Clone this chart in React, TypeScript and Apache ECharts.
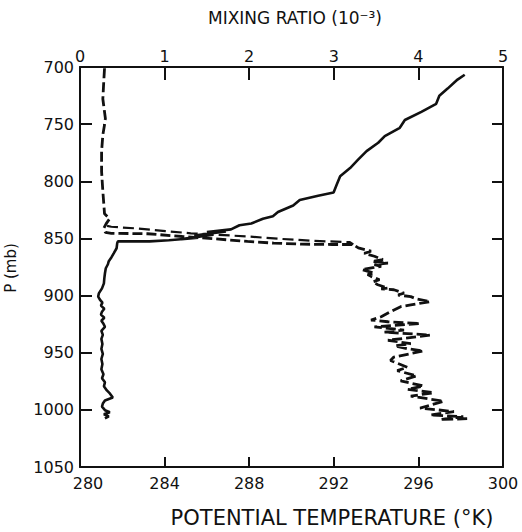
import { useEffect, useRef } from "react";
import * as echarts from "echarts";

// Pressure axis (mb), inverted: 700 at the top, 1050 at the bottom
const pressureMin = 700;
const pressureMax = 1050;
const pressureStep = 50;

// Potential temperature axis (K), bottom
const thetaMin = 280;
const thetaMax = 300;
const thetaStep = 4;

// Mixing ratio axis (10^-3), top
const mixMin = 0;
const mixMax = 5;
const mixStep = 1;

// Potential temperature sounding, top to bottom
const thetaK = [
  298.19, 297.85, 297.38, 296.99, 296.84, 296.14, 295.36, 295.12, 294.41, 294.1,
  293.55, 293.16, 292.77, 292.3, 292.14, 291.99, 291.26, 290.39, 290.08, 289.36,
  289.12, 288.65, 288.1, 287.54, 287.14, 286.0, 286.9, 285.4, 286.3, 284.8,
  285.6, 284.2, 283.29, 281.79, 281.76, 281.73, 281.6, 281.49, 281.36, 281.32,
  281.22, 281.18, 281.15, 281.13, 281.04, 280.89, 280.86, 280.94, 281.06, 280.99,
  281.15, 281.04, 280.99, 281.15, 281.01, 281.11, 281.18, 281.01, 281.08, 281.01,
  281.06, 281.01, 281.08, 281.01, 281.06, 281.01, 281.11, 281.04, 281.18, 281.13,
  281.27, 281.41, 281.55, 281.18, 281.08, 281.04, 281.18, 281.41, 281.13, 281.36,
  281.18,
];
const thetaP = [
  706.8, 711, 718.9, 725.2, 732.2, 739.2, 746.4, 753.2, 760.5, 766.3,
  773.6, 780.9, 788.4, 795.6, 802.9, 809.9, 812.7, 816.4, 821.2, 826.9,
  830.5, 832.8, 837, 838.5, 842.1, 844.5, 843.8, 847.5, 846.8, 850.6,
  849.4, 851.6, 852.6, 852.6, 854.1, 858.6, 862.9, 866.4, 869.9, 872.6,
  876.1, 880.5, 884.9, 889.3, 893.7, 898.1, 900.9, 903.5, 906.2, 908.8,
  911.5, 914.1, 916.7, 919.4, 922.0, 924.7, 927.3, 930.8, 934.4, 937.9,
  942.3, 946.7, 951.1, 955.5, 959.9, 964.4, 968.8, 972.3, 975.9, 979.4,
  983.0, 985.6, 989.2, 991.8, 994.5, 997.2, 1000.3, 1002.1, 1003.9, 1005.7,
  1007.5,
];

// Mixing ratio trace: dry layer aloft, hook at the inversion, moist layer below
const mixR = [
  0.29, 0.28, 0.27, 0.3, 0.29, 0.27, 0.255, 0.255, 0.27, 0.29,
  0.35, 0.31, 0.28, 0.3, 0.37, 0.8, 1.21, 1.6, 1.98, 2.29,
  2.62, 2.98, 3.23, 3.29, 3.44, 3.36, 3.48, 3.58, 3.45, 3.64,
  3.48, 3.56, 3.33, 3.48, 3.4, 3.44, 3.54, 3.46, 3.52, 3.64,
  3.56, 3.71, 3.83, 3.76, 3.91, 3.98, 4.14, 3.91, 3.79, 3.67,
  3.56, 3.44, 3.64, 4.02, 3.48, 3.83, 3.6, 4.14, 3.64, 3.91,
  3.72, 3.87, 4.06, 3.71, 3.67, 3.87, 3.75, 3.98, 3.79, 4.06,
  3.87, 4.18, 3.91, 4.3, 4.02, 4.42, 4.14, 4.53, 4.26, 4.61,
];
const mixP = [
  701.1, 713.8, 728, 745, 750.6, 759.4, 773.9, 791.3, 808.7, 828.5,
  832.8, 837.0, 841.3, 844.7, 845.5, 845.9, 848.3, 850.4, 852.6, 854.1,
  855.0, 855.3, 855.3, 858.3, 861.2, 863.0, 865.6, 868.5, 870.2, 871.5,
  872.9, 874.4, 877.3, 880.3, 881.6, 883.2, 886.1, 888.0, 890.5, 893.5,
  894.2, 894.9, 897.9, 899.5, 900.9, 903.0, 905.3, 908.2, 909.7, 914.1,
  918.5, 921.4, 922.9, 924.4, 927.3, 930.2, 932.0, 934.6, 939.1, 942.1,
  944.0, 946.5, 948.5, 953.8, 956.8, 962.8, 965.7, 970.2, 974.6, 979.1,
  982.1, 985.0, 988.0, 992.5, 998.4, 1001.5, 1004.5, 1006, 1008.5, 1007.6,
];

// Second pass of the mixing ratio trace through the inversion
const mixBranchR = [0.32, 0.37, 0.68, 1.01, 1.31, 1.63, 1.98, 2.37, 2.76, 3.19, 3.23];
const mixBranchP = [839.0, 839.8, 841.3, 843.6, 845.5, 846.8, 848.3, 850.4, 852.1, 853.3, 855.3];

const INK = "#111";
const FONT = "DejaVu Sans";

export default function App() {
  const ref = useRef<HTMLDivElement>(null);

  useEffect(() => {
    if (!ref.current) return;
    const chart = echarts.init(ref.current, undefined, { renderer: "svg" });

    const axisLine = { show: true, lineStyle: { color: INK, width: 2 } };
    const tick = (length: number) => ({
      show: true,
      inside: true,
      length,
      lineStyle: { color: INK, width: 2 },
    });
    const label = { color: INK, fontFamily: FONT, fontSize: 16 };
    const plain = (v: number) => String(v);

    chart.setOption({
      animation: false,
      backgroundColor: "#fff",
      grid: { left: 80, right: 19, top: 67, bottom: 65, containLabel: false },
      xAxis: [
        {
          type: "value",
          position: "bottom",
          min: thetaMin,
          max: thetaMax,
          interval: thetaStep,
          axisLine,
          axisTick: tick(10),
          splitLine: { show: false },
          axisLabel: {
            ...label,
            margin: 8,
            formatter: (v: number) => (v === thetaMin ? `{p|${v}}` : `${v}`),
            rich: { p: { padding: [0, 0, 0, 16], color: INK, fontFamily: FONT, fontSize: 16 } },
          },
        },
        {
          type: "value",
          position: "top",
          min: mixMin,
          max: mixMax,
          interval: mixStep,
          axisLine,
          axisTick: tick(13),
          splitLine: { show: false },
          axisLabel: { ...label, margin: 3, formatter: plain },
        },
      ],
      yAxis: [
        {
          type: "value",
          position: "left",
          inverse: true,
          min: pressureMin,
          max: pressureMax,
          interval: pressureStep,
          axisLine,
          axisTick: tick(12),
          splitLine: { show: false },
          axisLabel: { ...label, margin: 6, formatter: plain },
        },
        {
          type: "value",
          position: "right",
          inverse: true,
          min: pressureMin,
          max: pressureMax,
          interval: pressureStep,
          axisLine,
          axisTick: tick(11),
          splitLine: { show: false },
          axisLabel: { show: false },
        },
      ],
      series: [
        {
          name: "Potential temperature",
          type: "line",
          xAxisIndex: 0,
          yAxisIndex: 0,
          data: thetaK.map((k, i) => [k, thetaP[i]]),
          showSymbol: false,
          symbol: "none",
          lineStyle: { color: INK, width: 2.6 },
        },
        {
          name: "Mixing ratio",
          type: "line",
          xAxisIndex: 1,
          yAxisIndex: 0,
          data: mixR.map((r, i) => [r, mixP[i]]),
          showSymbol: false,
          symbol: "none",
          lineStyle: { color: INK, width: 2.8, type: [10, 4] },
        },
        {
          name: "Mixing ratio (inversion)",
          type: "line",
          xAxisIndex: 1,
          yAxisIndex: 0,
          data: mixBranchR.map((r, i) => [r, mixBranchP[i]]),
          showSymbol: false,
          symbol: "none",
          lineStyle: { color: INK, width: 2.2, type: [11, 5] },
        },
      ],
      graphic: [
        {
          type: "text",
          x: 295,
          y: 18,
          style: {
            text: "MIXING RATIO (10⁻³)",
            font: `17px "${FONT}"`,
            fill: INK,
            textAlign: "center",
            textVerticalAlign: "middle",
            align: "center",
            verticalAlign: "middle",
          },
        },
        {
          type: "text",
          x: 332,
          y: 518,
          style: {
            text: "POTENTIAL TEMPERATURE (°K)",
            font: `21px "${FONT}"`,
            fill: INK,
            textAlign: "center",
            textVerticalAlign: "middle",
            align: "center",
            verticalAlign: "middle",
          },
        },
        {
          type: "text",
          x: 11,
          y: 268,
          rotation: Math.PI / 2,
          style: {
            text: "P (mb)",
            font: `15px "${FONT}"`,
            fill: INK,
            textAlign: "center",
            textVerticalAlign: "middle",
            align: "center",
            verticalAlign: "middle",
          },
        },
      ],
    });

    return () => chart.dispose();
  }, []);

  return (
    <div
      ref={ref}
      style={{ position: "absolute", left: 0, top: 0, width: 522, height: 532 }}
    />
  );
}
